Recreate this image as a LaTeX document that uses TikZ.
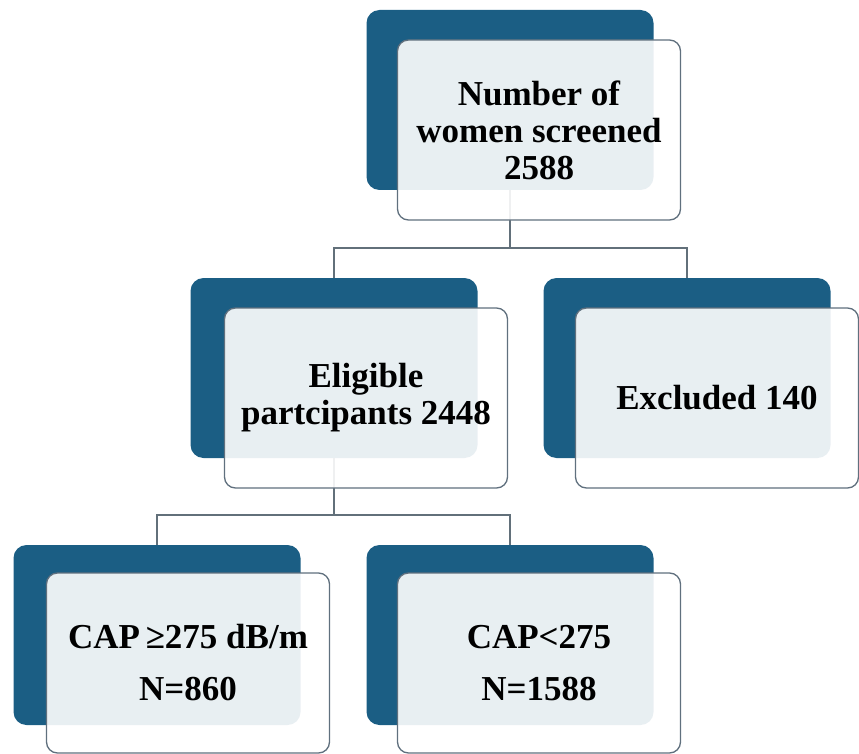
\documentclass[tikz,border=0pt]{standalone}
\usepackage{fontspec}
\setmainfont{Liberation Serif}
\usepackage{xcolor}
\usepackage{tikz}

\definecolor{boxteal}{RGB}{27,94,132}
\definecolor{boxedge}{RGB}{96,112,126}
\definecolor{linkgrey}{RGB}{98,112,122}

\begin{document}
\begin{tikzpicture}[x=1pt,y=-1pt,
  backbox/.style={fill=boxteal, rounded corners=13pt,
                  minimum width=287pt, minimum height=180pt},
  frontbox/.style={draw=boxedge, line width=1.3pt, fill=white, fill opacity=0.9,
                   text opacity=1, rounded corners=11pt, align=center,
                   minimum width=283pt, minimum height=180pt,
                   font=\fontsize{35}{37}\selectfont\bfseries},
  link/.style={draw=linkgrey, line width=1.8pt}]

\useasboundingbox (0,0) rectangle (859,754);

% --- BACK PANELS ---
\node[backbox] (screenBack)   at (510,100) {};
\node[backbox] (eligibleBack) at (334,368) {};
\node[backbox] (excludedBack) at (687,368) {};
\node[backbox] (highBack)     at (157,635) {};
\node[backbox] (lowBack)      at (510,635) {};

% --- CONNECTORS ---
\coordinate (split1) at (510,248);
\coordinate (split2) at (334,515);
\draw[link] (screenBack.south) -- (split1) -| (eligibleBack.north);
\draw[link] (split1) -| (excludedBack.north);
\draw[link] (eligibleBack.south) -- (split2) -| (highBack.north);
\draw[link] (split2) -| (lowBack.north);

% --- FRONT PANELS ---
\node[frontbox] (screen)   at (539,130) {Number of\\women screened\\2588};
\node[frontbox] (eligible) at (366,398) {Eligible\\partcipants 2448};
\node[frontbox] (excluded) at (717,398) {Excluded 140};
\node[frontbox] (high)     at (188,663) {CAP\,≥275 dB/m\\[15pt]N=860};
\node[frontbox] (low)      at (539,663) {CAP<275\\[15pt]N=1588};

\end{tikzpicture}
\end{document}
